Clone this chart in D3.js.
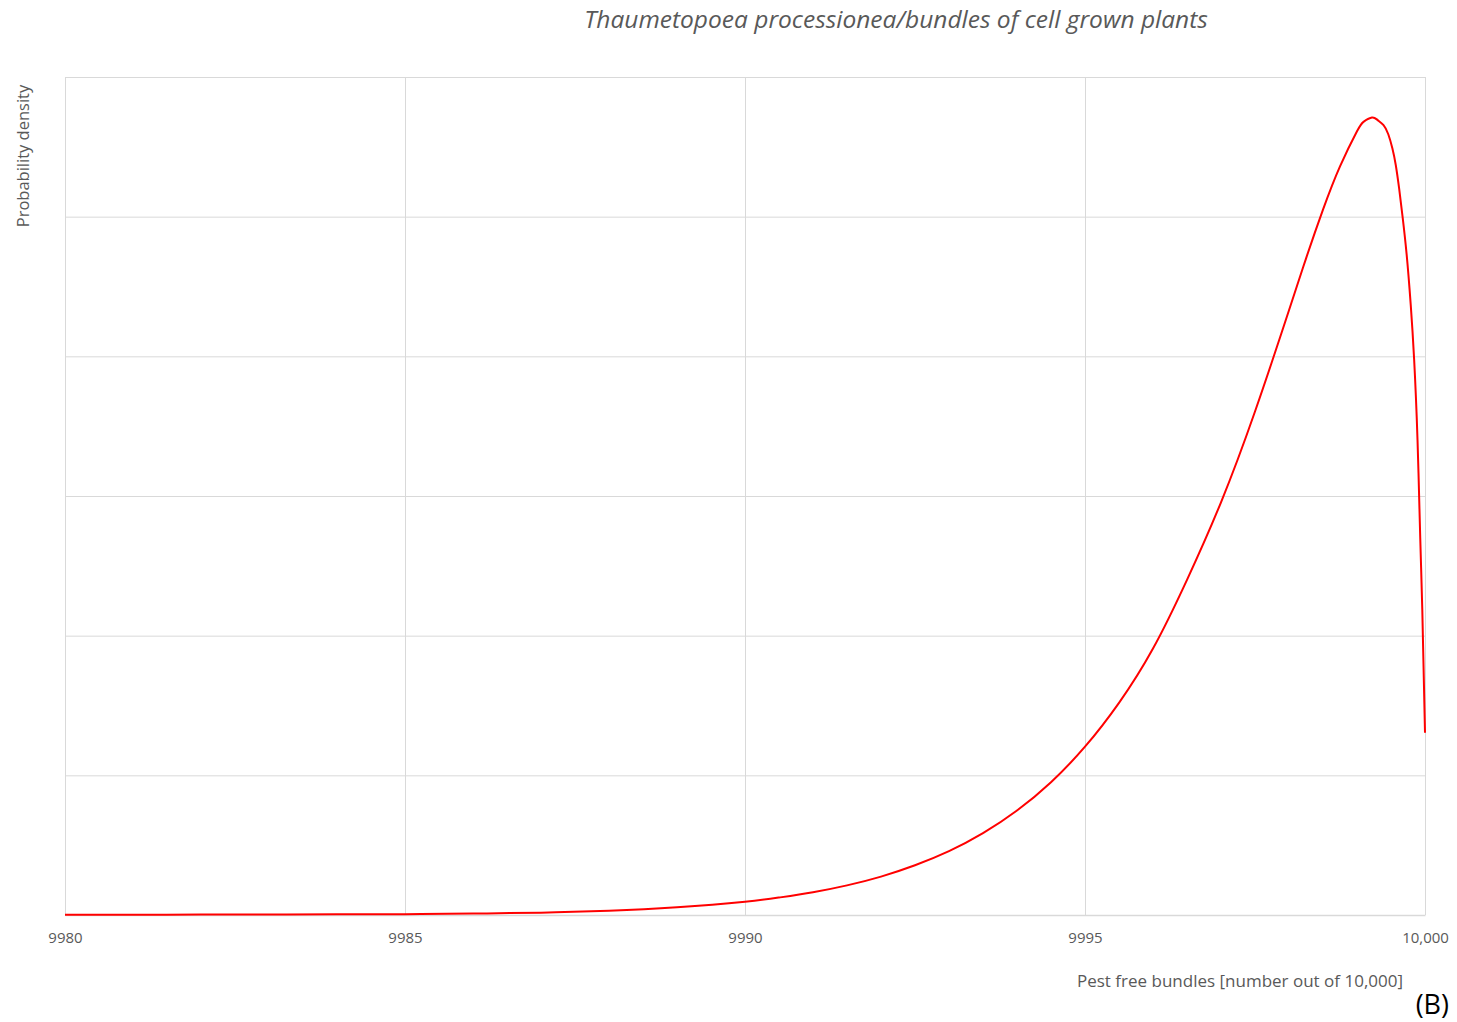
<!DOCTYPE html>
<html>
<head>
<meta charset="utf-8">
<script src="https://cdn.jsdelivr.net/npm/d3@7"></script>
<style>
  html, body { margin: 0; padding: 0; background: #fff; }
  svg { display: block; }
</style>
</head>
<body>
<svg id="chart" width="1457" height="1022"></svg>
<script>
// Pest-free bundles (out of 10,000) and the probability density at each
const pestFree = [9980, 9981, 9982, 9983, 9984, 9985, 9986, 9987, 9988, 9989,
  9990, 9990.5, 9991, 9991.5, 9992, 9992.5, 9993, 9993.5, 9994, 9994.5,
  9995, 9995.5, 9996, 9996.5, 9997, 9997.5, 9998, 9998.25, 9998.5, 9998.75, 9999,
  9999.1, 9999.22, 9999.3, 9999.39, 9999.46, 9999.52, 9999.57, 9999.62, 9999.67,
  9999.73, 9999.79, 9999.84, 9999.89, 9999.93, 9999.96, 10000];
const density = [0.002, 0.002, 0.003, 0.004, 0.005, 0.006, 0.010, 0.017, 0.030, 0.055,
  0.095, 0.125, 0.163, 0.212, 0.275, 0.356, 0.457, 0.586, 0.748, 0.951,
  1.205, 1.519, 1.908, 2.400, 2.955, 3.605, 4.330, 4.700, 5.050, 5.360, 5.612,
  5.681, 5.710, 5.693, 5.655, 5.590, 5.490, 5.370, 5.200, 5.000,
  4.730, 4.370, 3.980, 3.400, 2.700, 2.190, 1.305];

const xTicks = [9980, 9985, 9990, 9995, 10000];
const yTicks = [0, 1, 2, 3, 4, 5, 6];

const title = "Thaumetopoea processionea/bundles of cell grown plants";
const xTitle = "Pest free bundles [number out of 10,000]";
const yTitle = "Probability density";
const panelLabel = "(B)";

const svg = d3.select("#chart");
const plot = { left: 65, right: 1425, top: 77, bottom: 915 };

const x = d3.scaleLinear().domain([9980, 10000]).range([plot.left, plot.right]);
const y = d3.scaleLinear().domain([0, 6]).range([plot.bottom, plot.top]);

const gridColor = "#d9d9d9";
const textColor = "#595959";
const font = "'Open Sans', 'Liberation Sans', sans-serif";

// horizontal gridlines
svg.append("g")
  .attr("transform", `translate(${plot.left},0)`)
  .call(d3.axisLeft(y).tickValues(yTicks).tickSize(-(plot.right - plot.left)).tickFormat(""))
  .call(g => g.select(".domain").remove())
  .call(g => g.selectAll("line").attr("stroke", gridColor).attr("stroke-width", 1));

// vertical gridlines
svg.append("g")
  .attr("transform", `translate(0,${plot.top})`)
  .call(d3.axisTop(x).tickValues(xTicks).tickSize(-(plot.bottom - plot.top)).tickFormat(""))
  .call(g => g.select(".domain").remove())
  .call(g => g.selectAll("line").attr("stroke", gridColor).attr("stroke-width", 1));

// x axis with labels
svg.append("g")
  .attr("transform", `translate(0,${plot.bottom})`)
  .call(d3.axisBottom(x).tickValues(xTicks).tickSize(0).tickPadding(17)
    .tickFormat(d => d === 10000 ? d3.format(",")(d) : String(d)))
  .call(g => g.select(".domain").attr("stroke", gridColor).attr("stroke-width", 1.5))
  .call(g => g.selectAll("text")
    .attr("fill", textColor)
    .style("font-family", font)
    .style("font-size", "15px"));

// density curve
const line = d3.line()
  .x((d, i) => x(pestFree[i]))
  .y(d => y(d))
  .curve(d3.curveNatural);

svg.append("path")
  .datum(density)
  .attr("d", line)
  .attr("fill", "none")
  .attr("stroke", "#ff0000")
  .attr("stroke-width", 2);

// titles
svg.append("text")
  .attr("x", 896).attr("y", 28)
  .attr("text-anchor", "middle")
  .attr("fill", textColor)
  .style("font-family", font)
  .style("font-style", "italic")
  .style("font-size", "24.5px")
  .text(title);

svg.append("text")
  .attr("x", 1240).attr("y", 987)
  .attr("text-anchor", "middle")
  .attr("fill", textColor)
  .style("font-family", font)
  .style("font-size", "17px")
  .text(xTitle);

svg.append("text")
  .attr("transform", "translate(29,156) rotate(-90)")
  .attr("text-anchor", "middle")
  .attr("fill", textColor)
  .style("font-family", font)
  .style("font-size", "16.5px")
  .text(yTitle);

svg.append("text")
  .attr("x", 1449).attr("y", 1014)
  .attr("text-anchor", "end")
  .attr("fill", "#000")
  .style("font-family", font)
  .style("font-size", "27px")
  .text(panelLabel);
</script>
</body>
</html>
